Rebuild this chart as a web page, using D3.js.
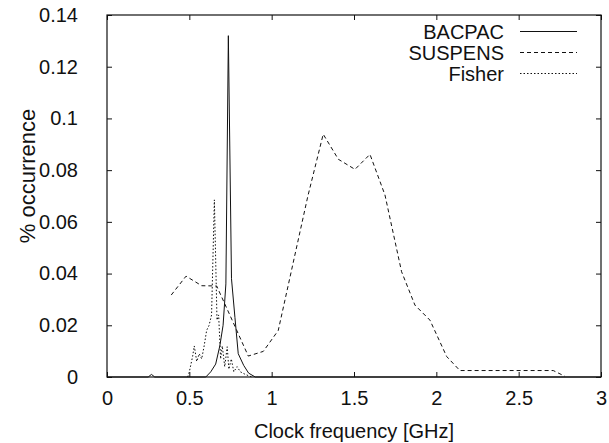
<!DOCTYPE html>
<html>
<head>
<meta charset="utf-8">
<script src="https://cdn.jsdelivr.net/npm/d3@7"></script>
<style>
  body { margin: 0; background: #fff; }
  svg text { font-family: "Liberation Sans", Arial, Helvetica, sans-serif; fill: #111; }
</style>
</head>
<body>
<svg id="chart" width="609" height="443"></svg>
<script>
// data
const xTicks = [0, 0.5, 1, 1.5, 2, 2.5, 3];
const yTicks = [0, 0.02, 0.04, 0.06, 0.08, 0.1, 0.12, 0.14];

const bacpacX = [0, 0.25, 0.27, 0.29, 0.6, 0.63, 0.66, 0.685, 0.705, 0.722, 0.737, 0.756, 0.777, 0.797, 0.83, 0.86, 0.9, 3];
const bacpacY = [0, 0, 0.001, 0, 0, 0.002, 0.005, 0.012, 0.02, 0.036, 0.132, 0.038, 0.023, 0.009, 0.0045, 0.0015, 0, 0];

const suspensX = [0.39, 0.48, 0.575, 0.666, 0.76, 0.858, 0.949, 1.04, 1.13, 1.22, 1.313, 1.405, 1.506, 1.597, 1.688, 1.789, 1.87, 1.961, 2.063, 2.143, 2.71, 2.78];
const suspensY = [0.0317, 0.039, 0.0353, 0.0352, 0.022, 0.0081, 0.0099, 0.018, 0.044, 0.07, 0.0939, 0.0842, 0.0803, 0.0861, 0.0704, 0.0407, 0.0278, 0.022, 0.0079, 0.0025, 0.0025, 0.0003];

const fisherX = [0.49, 0.5, 0.52, 0.53, 0.545, 0.56, 0.575, 0.59, 0.605, 0.62, 0.635, 0.652, 0.668, 0.678, 0.69, 0.70, 0.715, 0.73, 0.74, 0.755, 0.77, 0.79, 0.81, 0.84, 0.88];
const fisherY = [0, 0.002, 0.008, 0.012, 0.006, 0.009, 0.007, 0.012, 0.018, 0.02, 0.024, 0.0685, 0.022, 0.024, 0.007, 0.012, 0.004, 0.0117, 0.003, 0.007, 0.002, 0.004, 0.002, 0.001, 0];

const series = [
  { name: "BACPAC", xs: bacpacX, ys: bacpacY, dash: null },
  { name: "SUSPENS", xs: suspensX, ys: suspensY, dash: "4,3" },
  { name: "Fisher", xs: fisherX, ys: fisherY, dash: "1.5,2" },
];

const svg = d3.select("#chart");
const L = 107, R = 601, T = 15, B = 377;

const x = d3.scaleLinear().domain([0, 3]).range([L, R]);
const y = d3.scaleLinear().domain([0, 0.14]).range([B, T]);

// inward ticks on all four sides, gnuplot style
const tk = 5;
const fmt = d => d === 0 ? "0" : String(d);

svg.append("g").attr("transform", `translate(0,${B})`)
  .call(d3.axisBottom(x).tickValues(xTicks).tickSizeInner(-tk).tickSizeOuter(0).tickPadding(14).tickFormat(fmt))
  .call(g => g.select(".domain").remove())
  .call(g => g.selectAll("text").attr("font-size", 20));

svg.append("g").attr("transform", `translate(0,${T})`)
  .call(d3.axisTop(x).tickValues(xTicks).tickSizeInner(-tk).tickSizeOuter(0).tickFormat(""))
  .call(g => g.select(".domain").remove());

svg.append("g").attr("transform", `translate(${L},0)`)
  .call(d3.axisLeft(y).tickValues(yTicks).tickSizeInner(-tk).tickSizeOuter(0).tickPadding(29).tickFormat(fmt))
  .call(g => g.select(".domain").remove())
  .call(g => g.selectAll("text").attr("font-size", 20));

svg.append("g").attr("transform", `translate(${R},0)`)
  .call(d3.axisRight(y).tickValues(yTicks).tickSizeInner(-tk).tickSizeOuter(0).tickFormat(""))
  .call(g => g.select(".domain").remove());

svg.selectAll(".tick line").attr("stroke", "#111");

// frame
svg.append("rect")
  .attr("x", L).attr("y", T).attr("width", R - L).attr("height", B - T)
  .attr("fill", "none").attr("stroke", "#111").attr("stroke-width", 1.2);

// curves
const line = d3.line().x(d => x(d[0])).y(d => y(d[1]));
series.forEach(s => {
  svg.append("path")
    .datum(s.xs.map((v, i) => [v, s.ys[i]]))
    .attr("d", line)
    .attr("fill", "none")
    .attr("stroke", "#111")
    .attr("stroke-width", 1)
    .attr("stroke-dasharray", s.dash);
});

// legend
const leg = svg.append("g");
series.forEach((s, i) => {
  const ly = 31.5 + i * 21;
  leg.append("text").attr("x", 504).attr("y", ly).attr("dy", "0.35em")
    .attr("text-anchor", "end").attr("font-size", 20).text(s.name);
  leg.append("line").attr("x1", 520).attr("x2", 577).attr("y1", ly).attr("y2", ly)
    .attr("stroke", "#111").attr("stroke-width", 1).attr("stroke-dasharray", s.dash);
});

// axis titles
svg.append("text").attr("x", 354).attr("y", 438)
  .attr("text-anchor", "middle").attr("font-size", 20).text("Clock frequency [GHz]");
svg.append("text").attr("transform", "translate(27,176) rotate(-90)")
  .attr("text-anchor", "middle").attr("dy", "0.35em").attr("font-size", 22).text("% occurrence");
</script>
</body>
</html>
